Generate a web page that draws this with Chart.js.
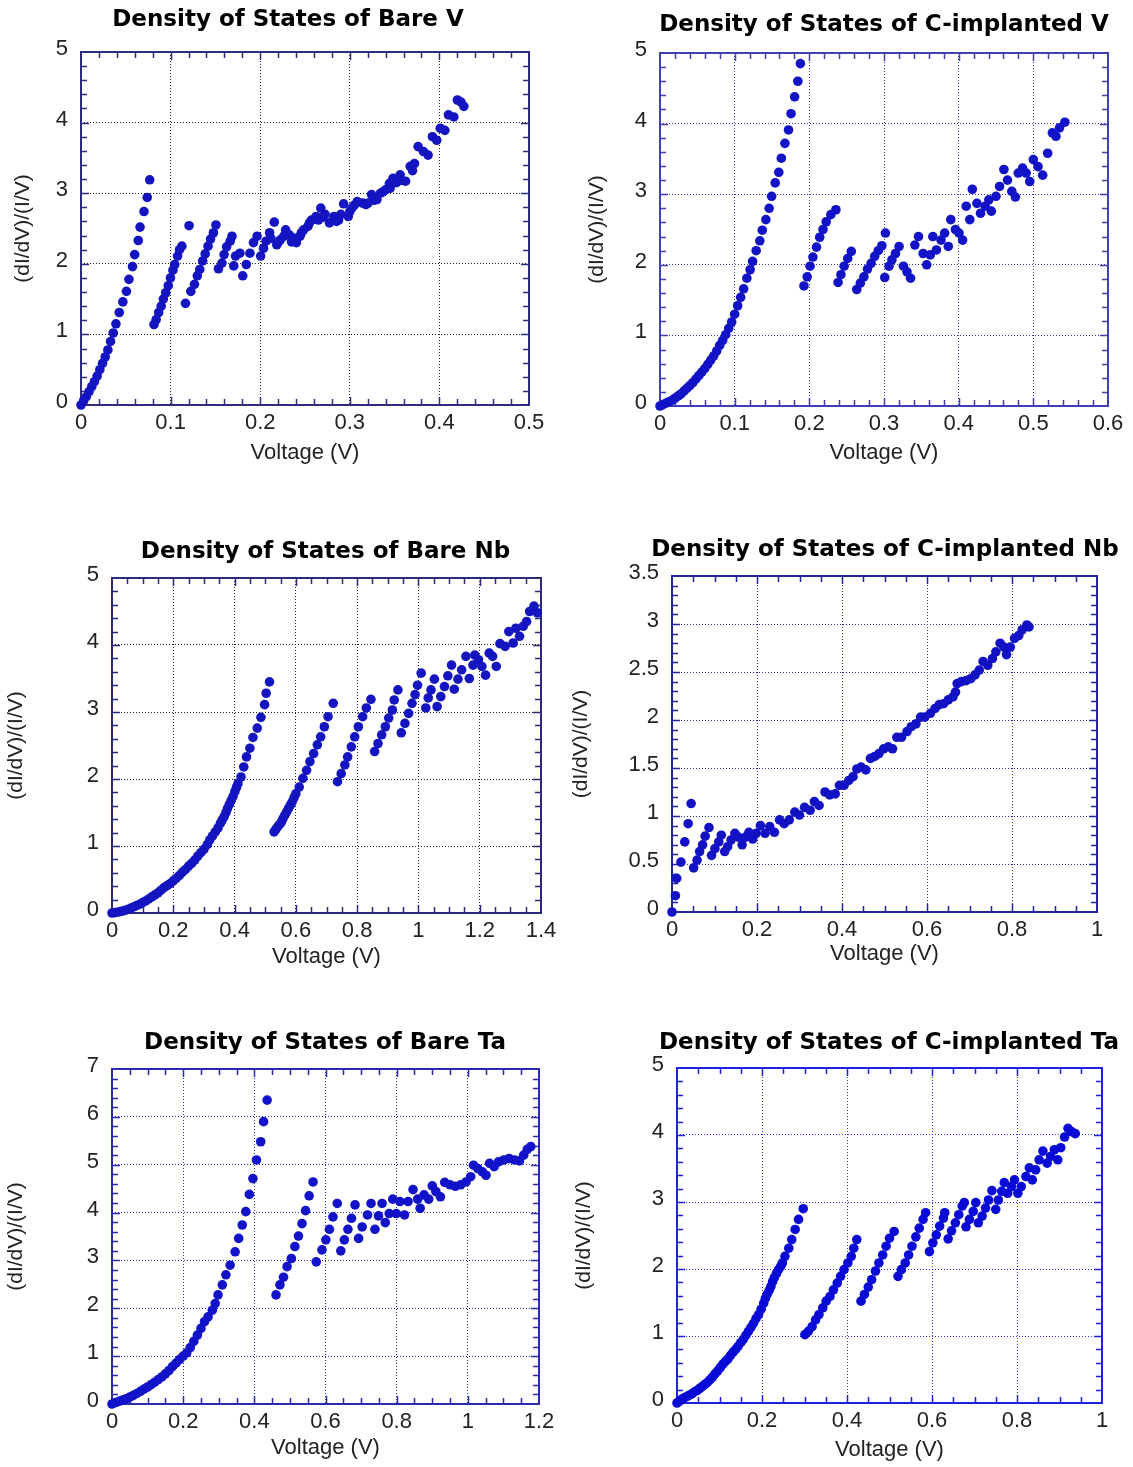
<!DOCTYPE html>
<html>
<head>
<meta charset="utf-8">
<script src="https://cdn.jsdelivr.net/npm/chart.js@4.4.1/dist/chart.umd.min.js"></script>
<style>
html, body { margin: 0; padding: 0; background: #fff; }
body { position: relative; width: 1133px; height: 1467px; overflow: hidden; }
canvas { position: absolute; }
</style>
</head>
<body>
<script>
// ---- data: voltage (V) and (dI/dV)/(I/V) ----
const vBareX = [0,0.003,0.006,0.009,0.012,0.015,0.018,0.021,0.024,0.027,0.030,0.033,0.036,0.039,0.0427,0.0467,0.0507,0.0535,0.0575,0.0599,0.0639,0.0659,0.0703,0.0739,0.0767,
  0.0815,0.0839,0.0867,0.0895,0.0919,0.0946,0.0974,0.0998,0.1026,0.1046,0.1078,0.110,0.1126,
  0.1166,0.1206,0.1226,0.1266,0.1298,0.1326,0.1358,0.1386,0.1418,0.1446,0.1478,0.1506,
  0.1534,0.1573,0.1597,0.1625,0.1665,0.1685,
  0.1705,0.1725,0.1773,0.1805,0.1845,0.1885,0.1925,0.1965,0.2005,0.2037,0.2065,0.2105,0.212,0.2157,0.2185,0.220,0.2224,0.2264,0.2284,0.2324,0.235,0.2364,0.2404,0.2444,0.246,0.2484,0.2532,0.255,0.2572,0.2624,0.265,0.2676,0.270,0.2724,0.2772,0.2823,0.285,0.2875,0.290,0.2931,0.2983,0.300,0.3023,0.305,0.3083,0.3143,0.318,0.3203,0.3243,0.327,0.3303,0.3343,0.337,0.3403,0.3443,0.345,0.3482,0.352,0.3562,0.358,0.3622,0.3674,0.370,0.3722,0.3762,0.3822,0.3874,0.3922,0.3970,0.4010,0.4061,0.4101,0.4161,0.4201,0.4241,0.4273];
const vBareY = [0,0.06,0.12,0.19,0.26,0.33,0.41,0.50,0.59,0.68,0.78,0.90,1.02,1.15,1.31,1.46,1.61,1.78,1.96,2.13,2.33,2.52,2.74,2.94,3.19,
  1.14,1.21,1.31,1.40,1.50,1.59,1.69,1.80,1.91,1.99,2.11,2.20,2.25,
  1.44,2.54,1.61,1.71,1.83,1.92,2.04,2.14,2.25,2.35,2.44,2.55,
  1.93,2.01,2.13,2.24,2.32,2.39,
  1.97,2.11,2.15,1.83,1.99,2.15,2.30,2.39,2.11,2.22,2.32,2.44,2.36,2.59,2.27,2.30,2.34,2.39,2.48,2.41,2.31,2.37,2.30,2.39,2.44,2.48,2.53,2.58,2.62,2.67,2.62,2.79,2.66,2.70,2.58,2.67,2.60,2.62,2.70,2.85,2.67,2.74,2.79,2.83,2.88,2.86,2.84,2.86,2.98,2.90,2.91,3.00,3.02,3.05,3.14,3.07,3.21,3.15,3.26,3.18,3.17,3.38,3.32,3.42,3.66,3.59,3.54,3.80,3.75,3.92,3.89,4.11,4.08,4.32,4.29,4.23];

const vImpX = [0,0.004,0.008,0.012,0.016,0.020,0.024,0.028,0.032,0.036,0.040,0.044,0.048,0.052,0.056,0.060,0.064,0.068,0.072,0.076,0.080,0.084,0.088,0.092,0.096,0.100,0.104,0.108,0.112,
  0.1163,0.1207,0.124,0.1288,0.1337,0.137,0.1418,0.1462,0.1495,0.1543,0.1591,0.1625,0.1673,0.1721,0.1755,0.1803,0.1846,0.188,
  0.1928,0.1971,0.201,0.2048,0.2096,0.2139,0.2183,0.2226,0.2288,0.2356,
  0.2385,0.2423,0.2466,0.2514,0.2562,
  0.2635,0.2683,0.2731,0.2779,0.2827,0.2875,0.2923,0.2971,0.3019,0.301,
  0.3067,0.3106,0.3154,0.3202,0.326,0.3308,0.3356,0.3413,0.3462,0.3524,0.3572,0.362,0.3654,0.3702,0.3764,0.3812,0.3861,0.3894,0.3957,0.4005,0.4053,0.4101,0.4149,0.4183,0.4245,0.4293,0.4356,0.4404,0.4438,0.45,0.4548,0.4606,0.4654,0.4712,0.476,0.4798,0.4856,0.4904,0.4952,0.5,0.5063,0.5125,0.5192,0.5255,0.5303,0.5351,0.5423];
const vImpY = [0,0.02,0.04,0.06,0.08,0.11,0.14,0.17,0.21,0.25,0.29,0.33,0.38,0.43,0.48,0.53,0.59,0.65,0.71,0.78,0.86,0.93,1.01,1.10,1.19,1.30,1.42,1.54,1.66,
  1.81,1.93,2.05,2.20,2.34,2.49,2.64,2.80,2.97,3.16,3.31,3.51,3.72,3.91,4.14,4.38,4.60,4.85,
  1.70,1.83,1.98,2.11,2.25,2.39,2.50,2.61,2.71,2.78,
  1.75,1.86,1.98,2.09,2.19,
  1.65,1.74,1.83,1.94,2.02,2.12,2.20,2.27,2.45,1.82,
  1.98,2.07,2.16,2.26,1.98,1.90,1.81,2.28,2.40,2.16,2.00,2.14,2.40,2.21,2.35,2.45,2.26,2.64,2.50,2.45,2.35,2.83,2.64,3.07,2.87,2.73,2.83,2.92,2.76,2.97,3.11,3.35,3.20,3.04,2.96,3.30,3.37,3.30,3.18,3.49,3.39,3.27,3.58,3.87,3.82,3.94,4.02];

const nbBareX = [0,0.01,0.02,0.03,0.04,0.05,0.06,0.07,0.08,0.09,0.10,0.11,0.12,0.13,0.14,0.15,0.16,0.17,0.18,0.19,0.20,0.21,0.22,0.23,0.24,0.25,0.26,0.27,0.28,0.29,0.30,
  0.311,0.319,0.328,0.337,0.346,0.354,0.360,0.366,0.372,0.377,0.383,0.389,0.395,0.401,0.406,0.411,0.421,0.430,0.439,0.450,0.460,0.474,0.486,0.498,0.503,0.514,
  0.529,0.535,0.541,0.547,0.553,0.558,0.564,0.570,0.576,0.582,0.588,0.594,0.600,0.611,0.623,0.635,0.646,0.658,0.670,0.681,0.693,0.705,0.722,
  0.736,0.748,0.760,0.769,0.781,0.792,0.804,0.818,0.830,0.845,
  0.857,0.868,0.880,0.892,0.903,0.915,0.921,0.933,
  0.944,0.956,0.968,0.979,0.989,0.997,1.009,
  1.024,1.032,1.041,1.052,
  1.061,1.073,1.085,1.096,1.108,
  1.117,1.129,1.141,1.155,1.166,1.178,1.184,1.196,1.207,1.219,1.231,1.242,1.254,1.266,1.283,1.295,1.309,1.318,1.330,1.342,1.353,1.363,1.377,1.388];
const nbBareY = [0,0.005,0.015,0.025,0.035,0.05,0.07,0.09,0.11,0.13,0.155,0.18,0.21,0.24,0.27,0.30,0.34,0.38,0.41,0.44,0.48,0.52,0.56,0.61,0.65,0.70,0.74,0.79,0.85,0.90,0.95,
  1.02,1.09,1.15,1.21,1.27,1.34,1.39,1.44,1.50,1.56,1.62,1.68,1.74,1.81,1.87,1.93,2.03,2.18,2.33,2.46,2.62,2.76,2.92,3.11,3.28,3.45,
  1.21,1.25,1.29,1.32,1.36,1.41,1.46,1.51,1.56,1.61,1.66,1.72,1.78,1.88,2.01,2.13,2.26,2.38,2.51,2.63,2.78,2.93,3.13,
  1.96,2.08,2.21,2.33,2.48,2.63,2.78,2.93,3.06,3.19,
  2.41,2.53,2.66,2.78,2.91,3.03,3.18,3.33,
  2.69,2.83,2.98,3.13,3.26,3.40,3.58,
  3.06,3.21,3.33,3.49,
  3.08,3.23,3.38,3.54,3.70,
  3.34,3.49,3.63,3.83,3.50,3.70,3.85,3.78,3.68,3.55,3.88,3.83,3.68,4.02,3.98,4.20,4.03,4.25,4.13,4.28,4.35,4.50,4.58,4.48];

const nbImpX = [0,0.008,0.011,0.021,0.030,0.038,0.045,0.051,0.059,0.065,0.072,0.078,0.087,0.093,0.101,0.110,0.116,0.124,0.131,0.139,0.148,0.156,0.165,0.173,0.181,0.190,0.198,0.208,0.219,0.230,0.241,0.253,0.264,0.276,0.289,0.300,0.312,0.325,0.335,0.346,0.360,0.371,0.384,0.394,0.405,0.416,0.426,0.435,0.445,0.456,0.467,0.477,0.487,0.498,0.509,0.519,0.529,0.540,0.553,0.563,0.574,0.585,0.595,0.608,0.619,0.629,0.639,0.650,0.661,0.667,0.671,0.681,0.692,0.703,0.713,0.723,0.732,0.743,0.754,0.762,0.772,0.781,0.787,0.796,0.806,0.816,0.824,0.835,0.840];
const nbImpY = [0,0.17,0.35,0.52,0.73,0.92,1.13,0.46,0.54,0.63,0.70,0.79,0.88,0.59,0.66,0.73,0.80,0.63,0.68,0.75,0.82,0.78,0.70,0.78,0.83,0.76,0.82,0.90,0.82,0.89,0.83,0.96,0.92,0.96,1.04,1.01,1.09,1.06,1.15,1.11,1.25,1.22,1.23,1.32,1.32,1.37,1.41,1.49,1.51,1.48,1.60,1.62,1.65,1.70,1.72,1.70,1.82,1.82,1.88,1.93,1.96,2.03,2.03,2.07,2.12,2.16,2.17,2.21,2.24,2.29,2.38,2.40,2.41,2.43,2.47,2.52,2.61,2.57,2.64,2.71,2.80,2.76,2.68,2.76,2.85,2.88,2.94,2.99,2.97];

const taBareX = [0,0.01,0.02,0.03,0.04,0.05,0.06,0.07,0.08,0.09,0.10,0.11,0.12,0.13,0.14,0.15,0.16,0.17,0.18,0.19,0.20,0.21,0.22,0.23,0.24,0.25,0.26,0.27,0.282,0.29,0.298,0.310,0.320,0.332,0.346,0.356,0.366,0.376,0.386,0.396,0.406,0.418,0.426,0.436,
  0.461,0.472,0.482,0.492,0.504,0.514,0.524,0.534,0.544,0.554,0.565,
  0.574,0.590,0.601,0.611,0.621,0.633,
  0.643,0.653,0.663,0.673,0.683,
  0.693,0.703,0.718,0.728,0.739,0.749,0.759,0.768,0.779,0.789,0.799,0.809,0.822,0.832,0.846,0.859,0.866,0.877,0.890,0.900,0.910,0.923,0.935,0.950,0.965,0.980,0.995,1.008,1.016,1.028,1.041,1.051,1.061,1.074,1.086,1.101,1.116,1.131,1.145,1.157,1.167,1.177];
const taBareY = [0,0.03,0.055,0.085,0.11,0.145,0.18,0.22,0.265,0.31,0.355,0.405,0.455,0.51,0.565,0.63,0.70,0.78,0.855,0.93,1.00,1.07,1.18,1.31,1.44,1.58,1.72,1.82,1.96,2.10,2.28,2.49,2.70,2.90,3.18,3.46,3.74,4.02,4.38,4.71,5.10,5.48,5.90,6.35,
  2.28,2.49,2.65,2.87,3.04,3.29,3.51,3.77,4.04,4.35,4.64,
  2.97,3.22,3.43,3.65,3.91,4.19,
  3.20,3.43,3.65,3.88,4.16,
  3.46,3.70,3.95,4.19,3.65,3.93,4.19,3.79,3.98,4.28,3.98,4.23,3.95,4.23,4.48,4.28,4.09,4.37,4.28,4.56,4.44,4.33,4.63,4.58,4.55,4.58,4.64,4.75,4.99,4.92,4.85,4.78,5.03,4.96,5.06,5.10,5.13,5.10,5.08,5.20,5.32,5.38];

const taImpX = [0,0.006,0.012,0.018,0.024,0.030,0.036,0.042,0.048,0.054,0.060,0.066,0.072,0.078,0.084,0.090,0.096,0.102,0.108,0.114,0.120,0.126,0.132,0.138,0.144,0.150,0.156,0.162,0.168,0.174,0.180,0.186,0.192,0.198,0.204,0.208,0.212,0.217,0.221,0.225,0.229,0.234,0.239,0.244,0.248,0.254,0.263,0.270,0.278,0.286,0.297,
  0.301,0.309,0.318,0.326,0.334,0.343,0.351,0.360,0.368,0.377,0.385,0.393,0.402,0.410,0.416,0.423,
  0.433,0.441,0.450,0.458,0.467,0.475,0.484,0.492,0.500,0.511,
  0.520,0.528,0.537,0.545,0.553,0.562,0.570,0.579,0.585,
  0.594,0.602,0.610,0.618,0.627,0.630,
  0.638,0.646,0.655,0.663,0.671,0.676,
  0.680,0.688,0.697,0.703,0.709,0.718,0.726,0.733,0.741,0.750,0.756,0.764,0.770,0.778,0.787,0.794,0.802,0.810,0.821,0.829,0.836,0.844,0.852,0.861,0.871,0.879,0.888,0.896,0.903,0.912,0.920,0.928,0.937];
const taImpY = [0,0.03,0.06,0.08,0.10,0.12,0.14,0.17,0.19,0.22,0.25,0.28,0.31,0.35,0.39,0.44,0.48,0.53,0.58,0.62,0.66,0.71,0.76,0.80,0.85,0.90,0.95,1.01,1.07,1.13,1.19,1.26,1.32,1.40,1.49,1.56,1.62,1.68,1.74,1.81,1.87,1.93,1.99,2.04,2.09,2.19,2.31,2.44,2.59,2.74,2.90,
  1.02,1.07,1.14,1.24,1.32,1.42,1.52,1.59,1.69,1.79,1.89,1.99,2.09,2.19,2.31,2.44,
  1.52,1.62,1.73,1.84,1.97,2.09,2.21,2.34,2.46,2.56,
  1.89,1.99,2.09,2.21,2.34,2.48,2.61,2.74,2.84,
  2.26,2.39,2.51,2.64,2.76,2.84,
  2.45,2.57,2.69,2.81,2.94,2.99,
  2.63,2.74,2.86,2.99,2.69,2.79,2.91,3.03,3.17,2.89,3.03,3.16,3.29,3.13,3.23,3.33,3.13,3.23,3.38,3.51,3.33,3.48,3.63,3.76,3.58,3.68,3.78,3.63,3.81,3.97,4.10,4.05,4.02];

// tick values
const vBareXTicks = [0, 0.1, 0.2, 0.3, 0.4, 0.5];
const vImpXTicks = [0, 0.1, 0.2, 0.3, 0.4, 0.5, 0.6];
const nbBareXTicks = [0, 0.2, 0.4, 0.6, 0.8, 1, 1.2, 1.4];
const nbImpXTicks = [0, 0.2, 0.4, 0.6, 0.8, 1];
const taBareXTicks = [0, 0.2, 0.4, 0.6, 0.8, 1, 1.2];
const taImpXTicks = [0, 0.2, 0.4, 0.6, 0.8, 1];
const yTicks5 = [0, 1, 2, 3, 4, 5];
const nbImpYTicks = [0, 0.5, 1, 1.5, 2, 2.5, 3, 3.5];
const taBareYTicks = [0, 1, 2, 3, 4, 5, 6, 7];

const SANS = "'Liberation Sans', Arial, sans-serif";
const BOLD = "'DejaVu Sans', Verdana, sans-serif";

// frame + inward minor ticks on all four sides
const frameTicks = {
  id: 'frameTicks',
  beforeDatasetsDraw(chart, args, o) {
    const {ctx, chartArea: a, scales: {x, y}} = chart;
    ctx.save();
    ctx.strokeStyle = o.color;
    ctx.lineWidth = 1.5;
    ctx.beginPath();
    let n = Math.round((x.max - x.min) / o.xMinor);
    for (let i = 1; i < n; i++) {
      const px = Math.round(x.getPixelForValue(x.min + i * o.xMinor)) + 0.5;
      const len = i % o.xEvery === 0 ? 8 : 6;
      ctx.moveTo(px, a.bottom); ctx.lineTo(px, a.bottom - len);
      ctx.moveTo(px, a.top); ctx.lineTo(px, a.top + len);
    }
    n = Math.round((y.max - y.min) / o.yMinor);
    for (let i = 1; i < n; i++) {
      const py = Math.round(y.getPixelForValue(y.min + i * o.yMinor)) + 0.5;
      const len = i % o.yEvery === 0 ? 8 : 6;
      ctx.moveTo(a.left, py); ctx.lineTo(a.left + len, py);
      ctx.moveTo(a.right, py); ctx.lineTo(a.right - len, py);
    }
    ctx.stroke();
    ctx.lineWidth = 2;
    ctx.strokeRect(a.left, a.top, a.right - a.left, a.bottom - a.top);
    ctx.restore();
  },
  // panel title, placed relative to the plot frame
  afterDraw(chart, args, o) {
    const {ctx, chartArea: a} = chart;
    ctx.save();
    ctx.font = 'bold 23px ' + BOLD;
    ctx.fillStyle = '#000';
    ctx.textAlign = 'center';
    ctx.textBaseline = 'middle';
    ctx.fillText(o.title, a.left + o.titleDx, a.top - o.titleDy);
    ctx.restore();
  }
};

const panels = [
  {title: 'Density of States of Bare V', xs: vBareX, ys: vBareY, xt: vBareXTicks, yt: yTicks5,
   xMinor: 0.02, xEvery: 5, yMinor: 0.2, yEvery: 5,
   rect: [81, 52, 529, 405], tc: [288, 20], L: 80, yOff: 58, d: 48,
   frame: '#2c2c7c', grid: '#222', dot: '#1414c0'},
  {title: 'Density of States of C-implanted V', xs: vImpX, ys: vImpY, xt: vImpXTicks, yt: yTicks5,
   xMinor: 0.02, xEvery: 5, yMinor: 0.2, yEvery: 5,
   rect: [660, 53, 1108, 406], tc: [884, 25], L: 80, yOff: 63, d: 47,
   frame: '#4040b4', grid: '#3a3aa8', dot: '#1212c6'},
  {title: 'Density of States of Bare Nb', xs: nbBareX, ys: nbBareY, xt: nbBareXTicks, yt: yTicks5,
   xMinor: 0.05, xEvery: 4, yMinor: 0.2, yEvery: 5,
   rect: [112, 578, 541, 913], tc: [325.5, 552], L: 110, yOff: 96, d: 44,
   frame: '#2a2a7a', grid: '#222', dot: '#1414c0'},
  {title: 'Density of States of C-implanted Nb', xs: nbImpX, ys: nbImpY, xt: nbImpXTicks, yt: nbImpYTicks,
   xMinor: 0.05, xEvery: 4, yMinor: 0.1, yEvery: 5,
   rect: [672, 576, 1097, 912], tc: [885, 550], L: 110, yOff: 91, d: 42,
   frame: '#23239c', grid: '#3030a0', dot: '#1212c4'},
  {title: 'Density of States of Bare Ta', xs: taBareX, ys: taBareY, xt: taBareXTicks, yt: taBareYTicks,
   xMinor: 0.05, xEvery: 4, yMinor: 0.2, yEvery: 5,
   rect: [112, 1069, 539, 1404], tc: [325, 1043], L: 110, yOff: 96, d: 44,
   frame: '#2a2ab0', grid: '#3232b0', dot: '#1212c8'},
  {title: 'Density of States of C-implanted Ta', xs: taImpX, ys: taImpY, xt: taImpXTicks, yt: yTicks5,
   xMinor: 0.05, xEvery: 4, yMinor: 0.2, yEvery: 5,
   rect: [677, 1068, 1102, 1403], tc: [889, 1043], L: 110, yOff: 93, d: 47,
   frame: '#2020e0', grid: '#3434e0', dot: '#0a0ad6'}
];

const fmt = v => String(+Number(v).toFixed(2));
const XH = 70;   // room under the plot for tick labels and axis title
const TOP = 45;  // room above the plot for the title
const RIGHT = 30;

panels.forEach(p => {
  const [l, t, r, b] = p.rect;
  const cv = document.createElement('canvas');
  cv.width = p.L + (r - l) + RIGHT;
  cv.height = TOP + (b - t) + XH;
  cv.style.left = (l - p.L) + 'px';
  cv.style.top = (t - TOP) + 'px';
  document.body.appendChild(cv);

  new Chart(cv.getContext('2d'), {
    type: 'scatter',
    data: {
      datasets: [{
        data: p.xs.map((x, i) => ({x: x, y: p.ys[i]})),
        pointRadius: 4.8,
        pointHoverRadius: 4.8,
        pointBackgroundColor: p.dot,
        pointBorderWidth: 0,
        clip: false
      }]
    },
    options: {
      responsive: false,
      animation: false,
      layout: {padding: {left: 0, right: RIGHT, top: TOP, bottom: 0}},
      plugins: {
        legend: {display: false},
        tooltip: {enabled: false},
        title: {display: false},
        frameTicks: {color: p.frame, xMinor: p.xMinor, xEvery: p.xEvery, yMinor: p.yMinor, yEvery: p.yEvery,
                     title: p.title, titleDx: p.tc[0] - l, titleDy: t - p.tc[1]}
      },
      scales: {
        x: {
          type: 'linear',
          min: p.xt[0],
          max: p.xt[p.xt.length - 1],
          afterBuildTicks: s => { s.ticks = p.xt.map(v => ({value: v})); },
          afterFit: s => { s.height = XH; s.paddingLeft = 0; s.paddingRight = 0; },
          ticks: {callback: fmt, color: '#222', padding: 5, maxRotation: 0, autoSkip: false,
                  font: {family: SANS, size: 22}},
          grid: {color: p.grid, lineWidth: 1, drawTicks: false},
          border: {display: false, dash: [1, 2]},
          title: {display: true, text: 'Voltage (V)', color: '#222',
                  font: {family: SANS, size: 22, lineHeight: 1},
                  padding: {top: 0, bottom: XH - 11 - p.d}}
        },
        y: {
          type: 'linear',
          min: p.yt[0],
          max: p.yt[p.yt.length - 1],
          afterBuildTicks: s => { s.ticks = p.yt.map(v => ({value: v})); },
          afterFit: s => { s.width = p.L; s.paddingTop = 0; s.paddingBottom = 0; },
          ticks: {callback: fmt, color: '#222', padding: 13, labelOffset: -3, autoSkip: false,
                  font: {family: SANS, size: 22}},
          grid: {color: p.grid, lineWidth: 1, drawTicks: false},
          border: {display: false, dash: [1, 2]},
          title: {display: true, text: '(dI/dV)/(I/V)', color: '#222',
                  font: {family: SANS, size: 21, lineHeight: 1},
                  padding: {top: p.L - p.yOff - 10.5, bottom: 0}}
        }
      }
    },
    plugins: [frameTicks]
  });
});
</script>
</body>
</html>
